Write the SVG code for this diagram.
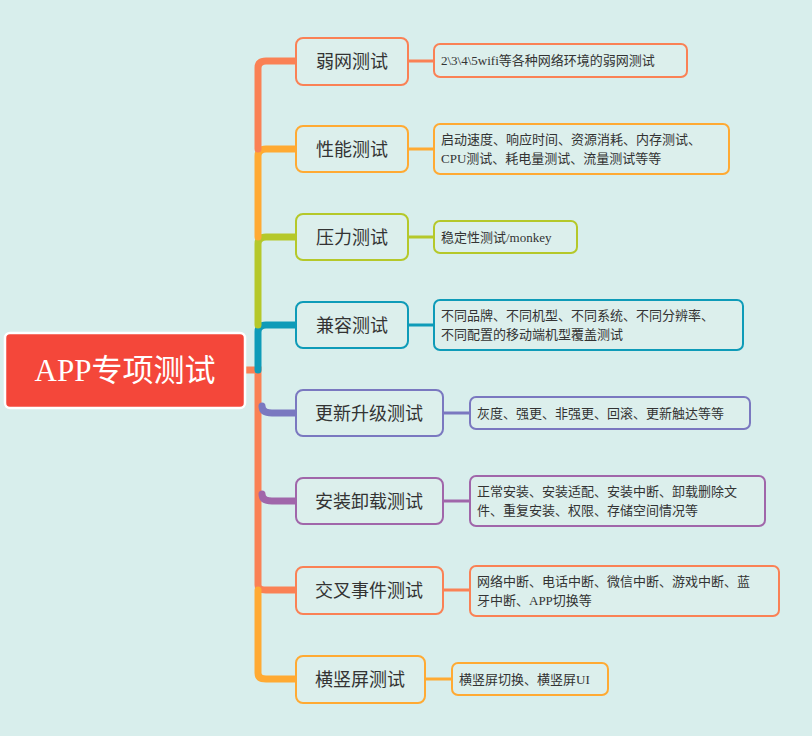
<svg xmlns="http://www.w3.org/2000/svg" width="812" height="736" viewBox="0 0 812 736">
<style>
.n{fill:#DCEFEC;stroke-width:2}
.t{font-family:"Liberation Serif","Noto Sans CJK SC",serif;font-size:18px;fill:#333;text-anchor:middle}
.d{font-family:"Liberation Serif","Noto Sans CJK SC",serif;font-size:13px;fill:#333}
.tr{fill:none;stroke-width:7;stroke-linecap:round}
.ln{fill:none;stroke-width:3}
</style>
<rect width="812" height="736" fill="#D8EEEC"/>
<g id="connectors">
<path class="tr" stroke="#FA8155" d="M244,370 H258 V585 Q258,590 266,590 H296"/>
<path class="tr" stroke="#FFAA33" d="M258,590 V673 Q258,679 266,679 H296"/>
<path class="tr" stroke="#0E9BB8" d="M258,370 V332 Q258,325 266,325 H296"/>
<path class="tr" stroke="#B5C82A" d="M258,325 V244 Q258,237 266,237 H296"/>
<path class="tr" stroke="#FFAA33" d="M258,237 V156 Q258,149 266,149 H296"/>
<path class="tr" stroke="#FA8155" d="M258,149 V68 Q258,61 266,61 H296"/>
<path class="tr" stroke="#7A78C0" d="M262,406 Q262,413 272,413 H296"/>
<path class="tr" stroke="#A066AA" d="M262,494 Q262,501 272,501 H296"/>
<path class="ln" stroke="#FA8155" d="M408,61 H434"/>
<path class="ln" stroke="#FFAA33" d="M408,149 H434"/>
<path class="ln" stroke="#B5C82A" d="M408,237 H434"/>
<path class="ln" stroke="#0E9BB8" d="M408,325 H434"/>
<path class="ln" stroke="#7A78C0" d="M443,413 H470"/>
<path class="ln" stroke="#A066AA" d="M443,501 H470"/>
<path class="ln" stroke="#FA8155" d="M443,590 H470"/>
<path class="ln" stroke="#FFAA33" d="M425,679 H452"/>
</g>
<g id="root">
<rect x="5" y="333" width="240" height="75" rx="5" fill="#F4473A" stroke="#fff" stroke-width="2.5"/>
<text x="125" y="381" text-anchor="middle" font-family="'Liberation Serif','Noto Sans CJK SC',serif" font-size="31" fill="#fff">APP专项测试</text>
</g>
<g id="n1"><rect class="n" x="296" y="38" width="112" height="47" rx="7" stroke="#FA8155"/><text class="t" x="352" y="68">弱网测试</text></g>
<g id="n2"><rect class="n" x="296" y="126" width="112" height="46" rx="7" stroke="#FFAA33"/><text class="t" x="352" y="156">性能测试</text></g>
<g id="n3"><rect class="n" x="296" y="214" width="112" height="46" rx="7" stroke="#B5C82A"/><text class="t" x="352" y="244">压力测试</text></g>
<g id="n4"><rect class="n" x="296" y="302" width="112" height="46" rx="7" stroke="#0E9BB8"/><text class="t" x="352" y="332">兼容测试</text></g>
<g id="n5"><rect class="n" x="296" y="390" width="147" height="46" rx="7" stroke="#7A78C0"/><text class="t" x="369" y="420">更新升级测试</text></g>
<g id="n6"><rect class="n" x="296" y="478" width="147" height="46" rx="7" stroke="#A066AA"/><text class="t" x="369" y="508">安装卸载测试</text></g>
<g id="n7"><rect class="n" x="296" y="567" width="147" height="47" rx="7" stroke="#FA8155"/><text class="t" x="369" y="597">交叉事件测试</text></g>
<g id="n8"><rect class="n" x="296" y="656" width="129" height="47" rx="7" stroke="#FFAA33"/><text class="t" x="360" y="686">横竖屏测试</text></g>
<g id="d1"><rect class="n" x="434" y="44" width="253" height="33" rx="6" stroke="#FA8155"/><text class="d" x="441" y="65">2\3\4\5wifi等各种网络环境的弱网测试</text></g>
<g id="d2"><rect class="n" x="434" y="124" width="295" height="50" rx="6" stroke="#FFAA33"/><text class="d" x="441" y="144">启动速度、响应时间、资源消耗、内存测试、</text><text class="d" x="441" y="163">CPU测试、耗电量测试、流量测试等等</text></g>
<g id="d3"><rect class="n" x="434" y="221" width="143" height="32" rx="6" stroke="#B5C82A"/><text class="d" x="441" y="242">稳定性测试/monkey</text></g>
<g id="d4"><rect class="n" x="434" y="300" width="309" height="50" rx="6" stroke="#0E9BB8"/><text class="d" x="441" y="320">不同品牌、不同机型、不同系统、不同分辨率、</text><text class="d" x="441" y="339">不同配置的移动端机型覆盖测试</text></g>
<g id="d5"><rect class="n" x="470" y="397" width="280" height="32" rx="6" stroke="#7A78C0"/><text class="d" x="477" y="418">灰度、强更、非强更、回滚、更新触达等等</text></g>
<g id="d6"><rect class="n" x="470" y="476" width="295" height="50" rx="6" stroke="#A066AA"/><text class="d" x="477" y="496">正常安装、安装适配、安装中断、卸载删除文</text><text class="d" x="477" y="515">件、重复安装、权限、存储空间情况等</text></g>
<g id="d7"><rect class="n" x="470" y="566" width="309" height="50" rx="6" stroke="#FA8155"/><text class="d" x="477" y="586">网络中断、电话中断、微信中断、游戏中断、蓝</text><text class="d" x="477" y="605">牙中断、APP切换等</text></g>
<g id="d8"><rect class="n" x="452" y="663" width="156" height="32" rx="6" stroke="#FFAA33"/><text class="d" x="459" y="684">横竖屏切换、横竖屏UI</text></g>
</svg>
